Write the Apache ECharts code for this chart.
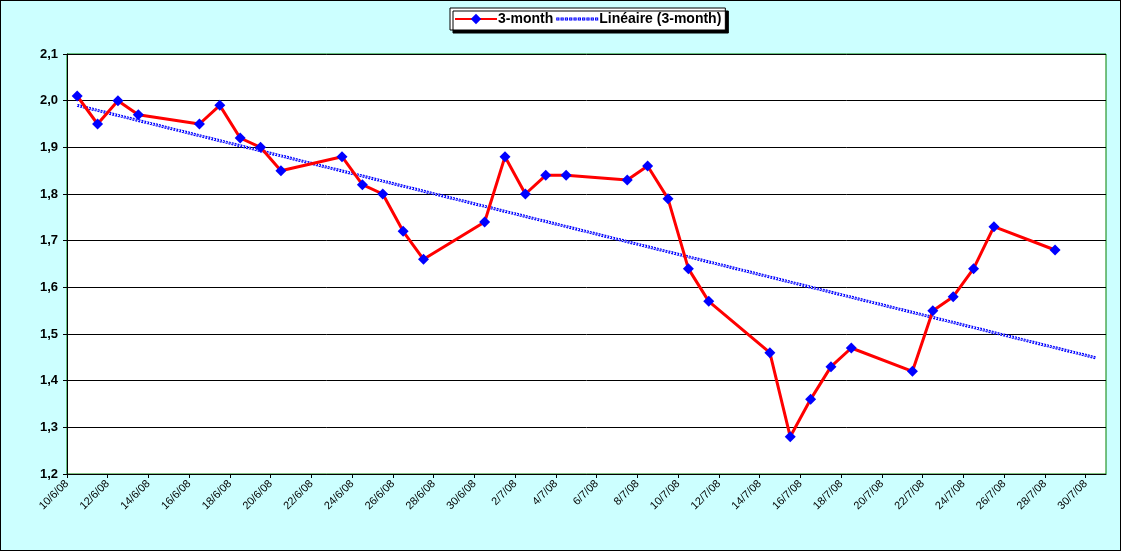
<!DOCTYPE html>
<html>
<head>
<meta charset="utf-8">
<script src="https://cdn.jsdelivr.net/npm/echarts@6/dist/echarts.min.js"></script>
<style>
  html, body { margin: 0; padding: 0; }
  #main { width: 1121px; height: 551px; box-sizing: border-box; border: 1px solid #000; background: #ccffff; }
</style>
</head>
<body>
<div id="main"></div>
<script>
// trading days and 3-month rate
const dates = ['10/6/08', '11/6/08', '12/6/08', '13/6/08', '16/6/08', '17/6/08', '18/6/08', '19/6/08', '20/6/08',
  '23/6/08', '24/6/08', '25/6/08', '26/6/08', '27/6/08', '30/6/08', '1/7/08', '2/7/08', '3/7/08', '4/7/08',
  '7/7/08', '8/7/08', '9/7/08', '10/7/08', '11/7/08', '14/7/08', '15/7/08', '16/7/08', '17/7/08', '18/7/08',
  '21/7/08', '22/7/08', '23/7/08', '24/7/08', '25/7/08', '28/7/08'];
const rate3m = [2.01, 1.95, 2.00, 1.97, 1.95, 1.99, 1.92, 1.90, 1.85,
  1.88, 1.82, 1.80, 1.72, 1.66, 1.74, 1.88, 1.80, 1.84, 1.84,
  1.83, 1.86, 1.79, 1.64, 1.57, 1.46, 1.28, 1.36, 1.43, 1.47,
  1.42, 1.55, 1.58, 1.64, 1.73, 1.68];
// linear trend, read at both ends
const trendDates = ['10/6/08', '30/7/08'];
const trendValues = [1.99, 1.449];

const startDay = new Date(2008, 5, 10);
function dayIndex(s) {
  const p = s.split('/');
  const d = new Date(2000 + +p[2], +p[1] - 1, +p[0]);
  return Math.round((d - startDay) / 86400000) + 0.5; // centre of the day
}
function dayLabel(v) {
  if (v > 50) return '';
  const d = new Date(2008, 5, 10 + v);
  return d.getDate() + '/' + (d.getMonth() + 1) + '/08';
}

// dotted legend icon for the trend
let dotted = 'path://';
for (let i = 0; i < 10; i++) dotted += 'M' + (i * 4) + ',0h3v3h-3zM' + (i * 4 + 1) + ',1v1h1v-1z';

const font = 'Arial, "Liberation Sans", sans-serif';
const rateData = dates.map((s, i) => [dayIndex(s), rate3m[i]]);
const trendData = trendDates.map((s, i) => [dayIndex(s), trendValues[i]]);

const myChart = echarts.init(document.getElementById('main'));
myChart.setOption({
  animation: false,
  textStyle: { fontFamily: font },
  legend: {
    data: [
      { name: '3-month' },
      { name: 'Linéaire (3-month)', icon: dotted, itemStyle: { color: '#0000ff' } }
    ],
    left: 449,
    top: 7,
    padding: [4, 4, 4, 4],
    itemGap: 3,
    itemWidth: 42,
    itemHeight: 13,
    backgroundColor: '#fff',
    borderColor: '#000',
    borderWidth: 1,
    shadowColor: '#000',
    shadowOffsetX: 3,
    shadowOffsetY: 3,
    shadowBlur: 0,
    textStyle: { fontSize: 14, fontWeight: 'bold', color: '#000', padding: [0, 0, 0, -4] }
  },
  grid: {
    left: 66,
    top: 53,
    right: 14,
    bottom: 76,
    show: true,
    backgroundColor: '#fff',
    borderColor: '#008000',
    borderWidth: 1
  },
  xAxis: {
    type: 'value',
    min: 0,
    max: 51,
    interval: 2,
    axisLine: { lineStyle: { color: '#000', width: 1 } },
    axisTick: { show: true, length: 4, lineStyle: { color: '#000' } },
    splitLine: { show: false },
    axisLabel: {
      rotate: 45,
      fontSize: 11,
      color: '#000',
      margin: 8,
      showMaxLabel: false,
      formatter: dayLabel
    }
  },
  yAxis: {
    type: 'value',
    min: 1.2,
    max: 2.1,
    interval: 0.1,
    axisLine: { show: true, lineStyle: { color: '#000', width: 1 } },
    axisTick: { show: true, length: 4, lineStyle: { color: '#000' } },
    splitLine: { lineStyle: { color: '#000', width: 1 } },
    axisLabel: {
      fontSize: 13,
      fontWeight: 'bold',
      color: '#000',
      margin: 9,
      formatter(v) {
        return v.toFixed(1).replace('.', ',');
      }
    }
  },
  series: [
    {
      name: 'Linéaire (3-month)',
      type: 'line',
      data: trendData,
      symbol: 'none',
      itemStyle: { color: '#0000ff' },
      lineStyle: { color: '#0000ff', width: 3, type: [2, 1] },
      z: 2
    },
    {
      name: 'trend-inner',
      type: 'line',
      data: trendData,
      symbol: 'none',
      lineStyle: { color: '#fff', width: 1, type: [1, 2] },
      silent: true,
      z: 3
    },
    {
      name: '3-month',
      type: 'line',
      data: rateData,
      symbol: 'diamond',
      symbolSize: 11,
      itemStyle: { color: '#0000ff' },
      lineStyle: { color: '#ff0000', width: 3 },
      z: 4
    }
  ]
});
</script>
</body>
</html>
